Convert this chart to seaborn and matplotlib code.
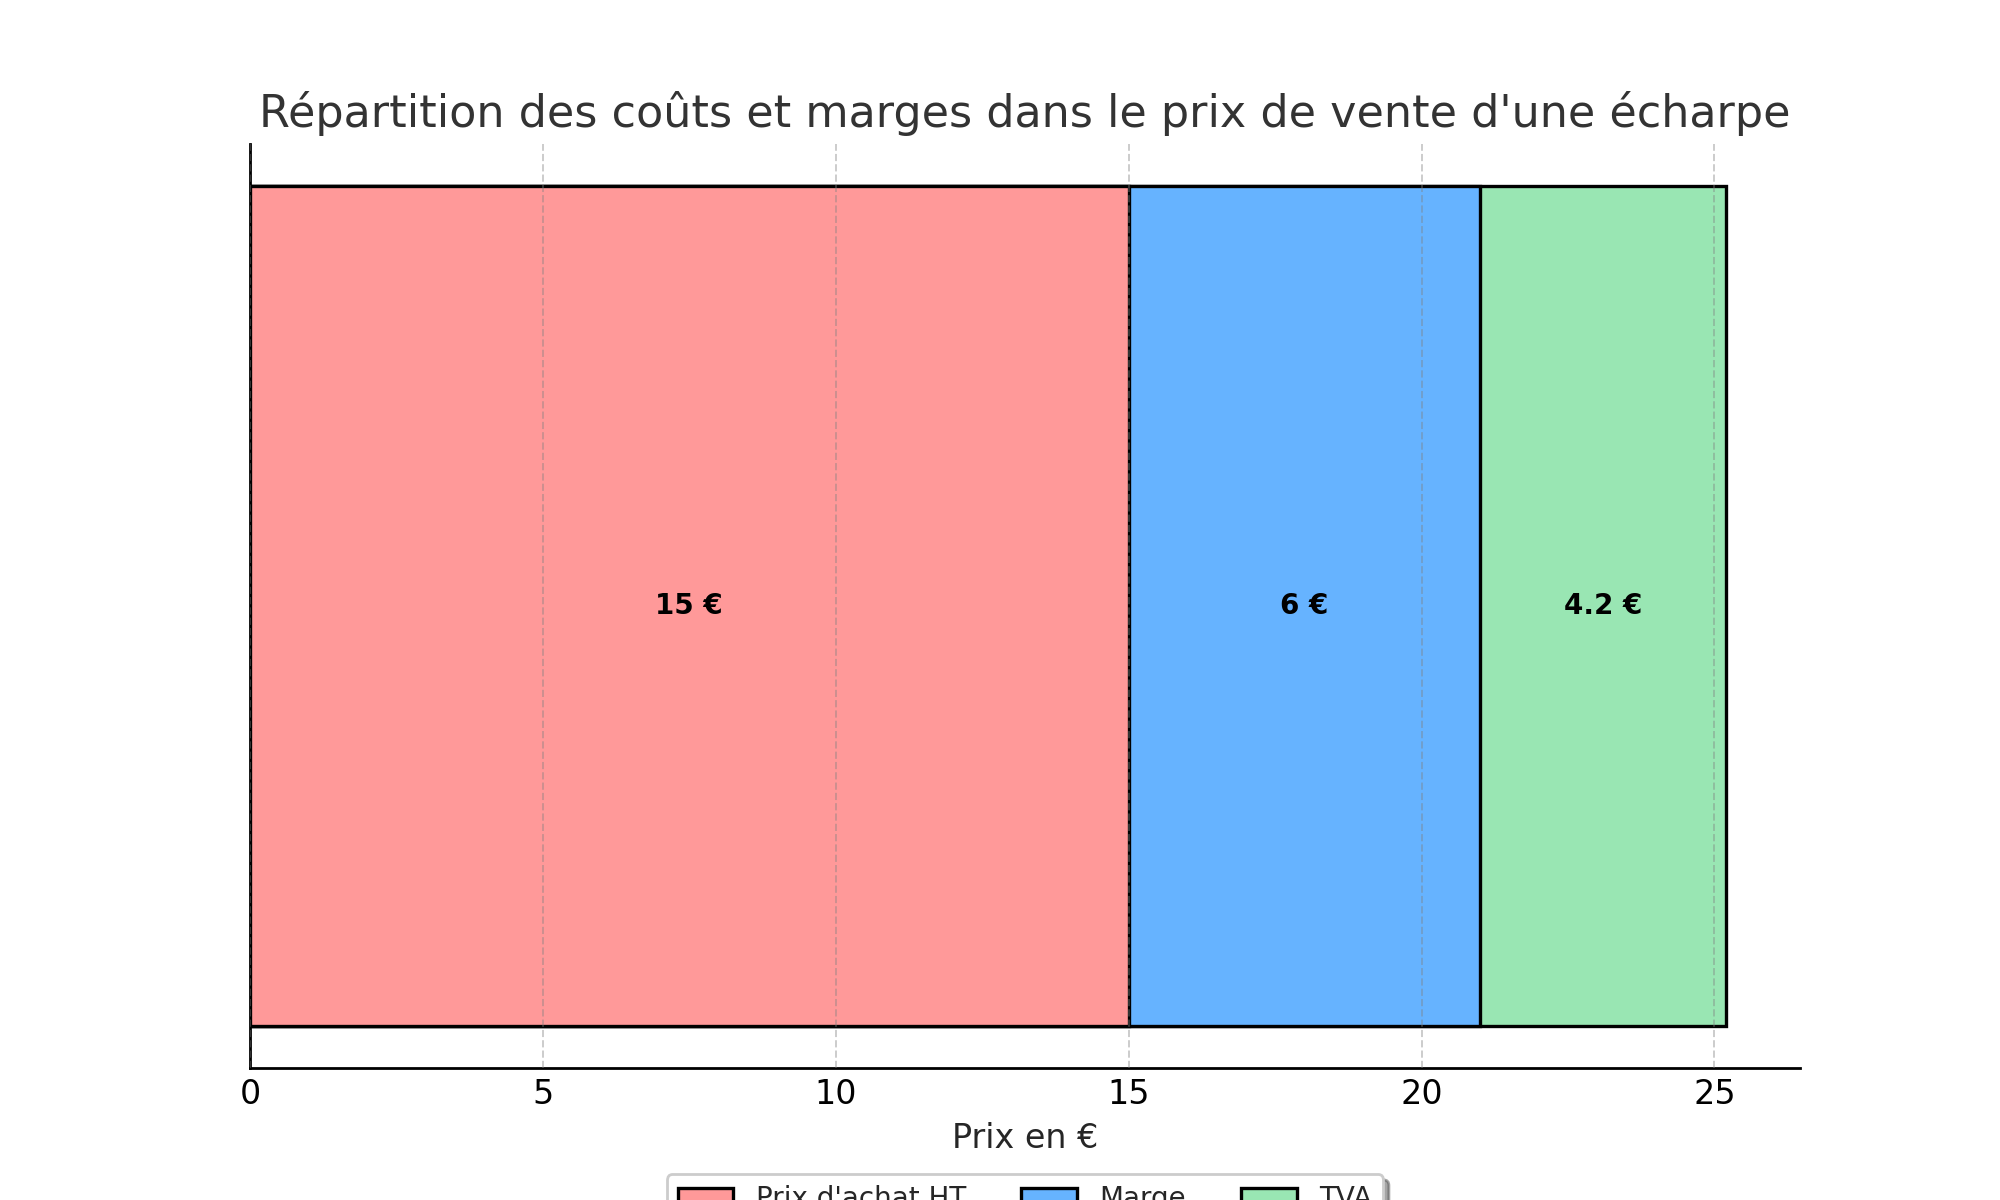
import numpy as np
import pandas as pd
import matplotlib
matplotlib.use("Agg")
import matplotlib.pyplot as plt
from matplotlib.patches import Patch
import seaborn as sns

categories = ["Prix d'achat HT", "Marge", "TVA"]
values = [15, 6, 4.2]
labels = ["15 €", "6 €", "4.2 €"]
colors = ["#ff9999", "#66b3ff", "#99e6b3"]
xticks = [0, 5, 10, 15, 20, 25]

sns.set_style("white")
plt.rcParams['font.family'] = ['DejaVu Sans']

fig, ax = plt.subplots(figsize=(10, 6), dpi=200)

cum = np.cumsum(values)
starts = cum - np.array(values)
# draw cumulative bars from the largest so each segment shows as stacked
for i in reversed(range(len(values))):
    df = pd.DataFrame({"item": ["écharpe"], "val": [cum[i]]})
    sns.barplot(data=df, x="val", y="item", orient="h", color=colors[i],
                edgecolor="black", linewidth=1.2, width=0.8, saturation=1,
                ax=ax, zorder=2)

for i in range(len(values)):
    ax.text(starts[i] + values[i] / 2, 0, labels[i], ha="center", va="center",
            fontsize=10, fontweight="bold", color="black", zorder=5)

ax.set_xlim(0, cum[-1] * 1.05)
ax.set_ylim(0.44, -0.44)
ax.set_yticks([])
ax.set_ylabel("")
ax.set_xticks(xticks)
ax.tick_params(axis="x", direction="in", length=3.5, width=0.8, labelsize=12,
               colors="black")
ax.set_xlabel("Prix en €", fontsize=12)
ax.set_title("Répartition des coûts et marges dans le prix de vente d'une écharpe",
             fontsize=16, color="#333333")
ax.set_axisbelow(False)
ax.grid(axis="x", linestyle="--", color="gray", alpha=0.4, linewidth=0.7, zorder=3)
ax.grid(axis="y", visible=False)
for s in ["top", "right"]:
    ax.spines[s].set_visible(False)
for s in ["left", "bottom"]:
    ax.spines[s].set_color("black")
    ax.spines[s].set_linewidth(1.0)

handles = [Patch(facecolor=colors[i], edgecolor="black", linewidth=1.2, label=categories[i])
           for i in range(len(values))]
ax.legend(handles=handles, loc="upper center", bbox_to_anchor=(0.5, -0.1), ncol=3,
          shadow=True, fontsize=10, frameon=True)

fig.savefig("out.png", dpi=200)
